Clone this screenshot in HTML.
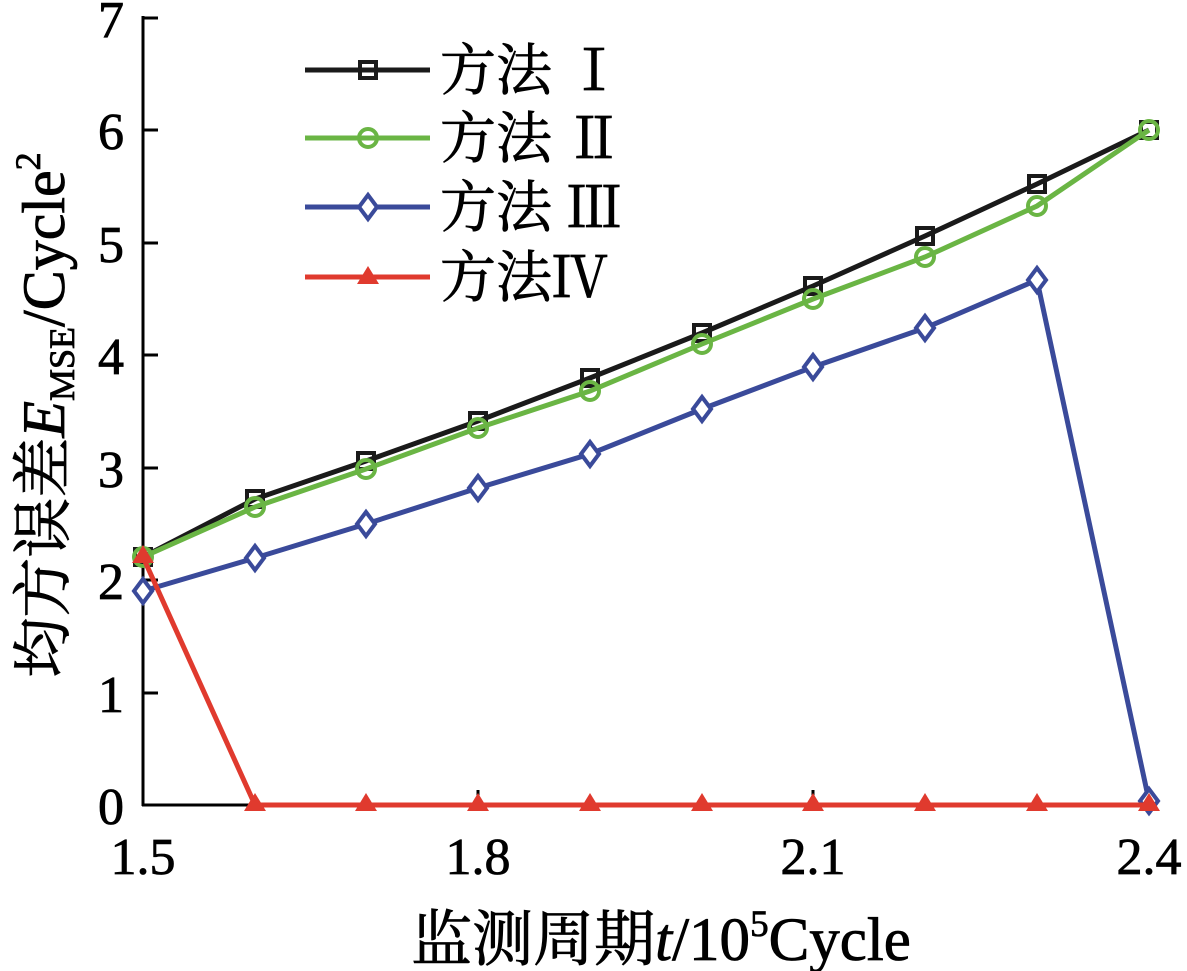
<!DOCTYPE html>
<html><head><meta charset="utf-8"><style>body{margin:0;background:#fff}svg{display:block}</style></head><body>
<svg width="1187" height="971" viewBox="0 0 1187 971" xmlns="http://www.w3.org/2000/svg" font-family="'Liberation Serif','Noto Serif CJK SC',serif">
<g stroke="#000" stroke-width="3" fill="none">
<line x1="143" y1="16" x2="143" y2="806"/>
<line x1="142" y1="805" x2="1150" y2="805"/>
<line x1="143" y1="693" x2="158" y2="693"/><line x1="143" y1="580" x2="158" y2="580"/><line x1="143" y1="468" x2="158" y2="468"/><line x1="143" y1="355" x2="158" y2="355"/><line x1="143" y1="243" x2="158" y2="243"/><line x1="143" y1="130" x2="158" y2="130"/><line x1="143" y1="18" x2="158" y2="18"/>
<line x1="478" y1="805" x2="478" y2="790"/><line x1="813" y1="805" x2="813" y2="790"/><line x1="1149" y1="805" x2="1149" y2="790"/>
</g>
<g font-size="52" text-anchor="end" fill="#000" stroke="#000" stroke-width="0.8">
<text x="124" y="824">0</text><text x="124" y="712">1</text><text x="124" y="599">2</text><text x="124" y="487">3</text><text x="124" y="374">4</text><text x="124" y="262">5</text><text x="124" y="149">6</text><text x="124" y="37">7</text>
</g>
<g font-size="52" text-anchor="middle" fill="#000" stroke="#000" stroke-width="0.8">
<text x="143" y="874">1.5</text><text x="478" y="874">1.8</text><text x="813" y="874">2.1</text><text x="1149" y="874">2.4</text>
</g>
<text x="661" y="960" font-size="61" text-anchor="middle" stroke="#000" stroke-width="0.8">监测周期<tspan font-style="italic">t</tspan>/10<tspan font-size="37" dy="-24">5</tspan><tspan dy="24">Cycle</tspan></text>
<text transform="translate(64,415) rotate(-90)" font-size="60" text-anchor="middle" stroke="#000" stroke-width="0.8">均方误差<tspan font-style="italic">E</tspan><tspan font-size="36" dy="10">MSE</tspan><tspan dy="-10">/Cycle</tspan><tspan font-size="36" dy="-24">2</tspan></text>
<polyline fill="none" stroke="#1a1a1a" stroke-width="5" points="143,557 255,499 366,461 478,421 590,378 702,333 813,286 925,236 1037,184 1149,130"/>
<g fill="none" stroke="#1a1a1a" stroke-width="4">
<rect x="135" y="549" width="16" height="16"/><rect x="247" y="491" width="16" height="16"/><rect x="358" y="453" width="16" height="16"/><rect x="470" y="413" width="16" height="16"/><rect x="582" y="370" width="16" height="16"/><rect x="694" y="325" width="16" height="16"/><rect x="805" y="278" width="16" height="16"/><rect x="917" y="228" width="16" height="16"/><rect x="1029" y="176" width="16" height="16"/><rect x="1141" y="122" width="16" height="16"/>
</g>
<polyline fill="none" stroke="#6ab544" stroke-width="5" points="143,557 255,507 366,469 478,428 590,391 702,344 813,299 925,257 1037,206 1149,130"/>
<g fill="none" stroke="#6ab544" stroke-width="4">
<circle cx="143" cy="557" r="9"/><circle cx="255" cy="507" r="9"/><circle cx="366" cy="469" r="9"/><circle cx="478" cy="428" r="9"/><circle cx="590" cy="391" r="9"/><circle cx="702" cy="344" r="9"/><circle cx="813" cy="299" r="9"/><circle cx="925" cy="257" r="9"/><circle cx="1037" cy="206" r="9"/><circle cx="1149" cy="130" r="9"/>
</g>
<polyline fill="none" stroke="#3a4a9a" stroke-width="5" points="143,591 255,558 366,524 478,488 590,454 702,409 813,367 925,328 1037,280 1149,801"/>
<g fill="#fff" stroke="#3a4a9a" stroke-width="4">
<path d="M143,579 l9,12 l-9,12 l-9,-12z"/><path d="M255,546 l9,12 l-9,12 l-9,-12z"/><path d="M366,512 l9,12 l-9,12 l-9,-12z"/><path d="M478,476 l9,12 l-9,12 l-9,-12z"/><path d="M590,442 l9,12 l-9,12 l-9,-12z"/><path d="M702,397 l9,12 l-9,12 l-9,-12z"/><path d="M813,355 l9,12 l-9,12 l-9,-12z"/><path d="M925,316 l9,12 l-9,12 l-9,-12z"/><path d="M1037,268 l9,12 l-9,12 l-9,-12z"/><path d="M1149,789 l9,12 l-9,12 l-9,-12z"/>
</g>
<polyline fill="none" stroke="#e03a2e" stroke-width="5" points="143,557 255,805 366,805 478,805 590,805 702,805 813,805 925,805 1037,805 1149,805"/>
<g fill="#e03a2e">
<path d="M143,545 l11,18 h-22z"/><path d="M255,793 l11,18 h-22z"/><path d="M366,793 l11,18 h-22z"/><path d="M478,793 l11,18 h-22z"/><path d="M590,793 l11,18 h-22z"/><path d="M702,793 l11,18 h-22z"/><path d="M813,793 l11,18 h-22z"/><path d="M925,793 l11,18 h-22z"/><path d="M1037,793 l11,18 h-22z"/><path d="M1149,793 l11,18 h-22z"/>
</g>
<line x1="305" y1="70" x2="430" y2="70" stroke="#1a1a1a" stroke-width="5"/><rect x="360" y="62" width="16" height="16" fill="none" stroke="#1a1a1a" stroke-width="4"/>
<line x1="305" y1="138" x2="430" y2="138" stroke="#6ab544" stroke-width="5"/><circle cx="368" cy="138" r="9" fill="none" stroke="#6ab544" stroke-width="4"/>
<line x1="305" y1="207" x2="430" y2="207" stroke="#3a4a9a" stroke-width="5"/><path d="M368,195 l9,12 l-9,12 l-9,-12z" fill="#fff" stroke="#3a4a9a" stroke-width="4"/>
<line x1="305" y1="277" x2="430" y2="277" stroke="#e03a2e" stroke-width="5"/><path d="M368,266 l11,18 h-22z" fill="#e03a2e"/>
<g font-size="56" fill="#000" stroke="#000" stroke-width="0.8">
<text x="440" y="90">方法 Ⅰ</text><text x="440" y="158">方法 Ⅱ</text><text x="440" y="227">方法 Ⅲ</text><text x="440" y="297">方法Ⅳ</text>
</g>
</svg>
</body></html>
